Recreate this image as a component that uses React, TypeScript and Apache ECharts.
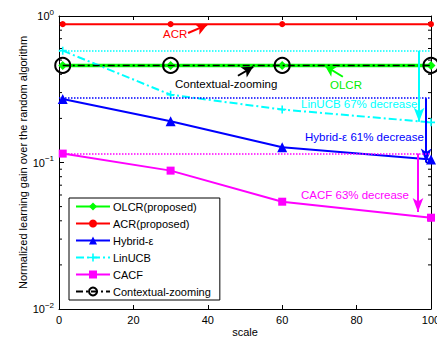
import React, { useEffect, useRef } from "react";
import * as echarts from "echarts";

const scales = [1, 30, 60, 100];
const olcr = [0.46, 0.46, 0.46, 0.46];
const acr = [0.88, 0.88, 0.88, 0.88];
const hybrid = [0.271, 0.191, 0.127, 0.105];
const linucb = [0.58, 0.29, 0.23, 0.188];
const cacf = [0.115, 0.088, 0.054, 0.042];
const zooming = [0.46, 0.46, 0.46, 0.46];

const minorTicks = [0.02, 0.03, 0.04, 0.05, 0.06, 0.07, 0.08, 0.09, 0.2, 0.3, 0.4, 0.5, 0.6, 0.7, 0.8, 0.9];

// reference levels (starting value of each baseline)
const linucbStart = 0.58;
const hybridStart = 0.275;
const cacfStart = 0.115;

// decrease arrows: [x, fromY, toY]
const linucbArrow = [96.8, 0.58, 0.19];
const hybridArrow = [98.7, 0.275, 0.1];
const cacfArrow = [96.5, 0.115, 0.046];

// label arrows: [x1, y1, x2, y2]
const acrArrow = [34.7, 0.766, 39.8, 0.869];
const zoomArrow = [48.1, 0.391, 52.2, 0.45];
const olcrArrow = [76.3, 0.385, 71.5, 0.457];

const pair = (xs: number[], ys: number[]) => xs.map((x, i) => [x, ys[i]]);

const arrowLine = (a: number[]) => [
  { coord: [a[0], a[1]], symbol: "none" },
  { coord: [a[2], a[3]], symbol: "arrow", symbolSize: [9, 11] },
];
const vArrow = (a: number[]) => [
  { coord: [a[0], a[1]], symbol: "none" },
  { coord: [a[0], a[2]], symbol: "arrow", symbolSize: [8, 14] },
];
const hLine = (v: number, color: string) => [
  { coord: [0, v], symbol: "none", lineStyle: { type: "dotted", width: 1.5, color } },
  { coord: [100, v], symbol: "none" },
];

const plusPath = "path://M4,0 L6,0 L6,4 L10,4 L10,6 L6,6 L6,10 L4,10 L4,6 L0,6 L0,4 L4,4 Z";

const FONT = "Liberation Sans, Arial, sans-serif";

export default function App() {
  const ref = useRef<HTMLDivElement>(null);
  useEffect(() => {
    if (!ref.current) return;
    const chart = echarts.init(ref.current, undefined, { renderer: "svg" });
    const supFmt = (v: number) => {
      const e = Math.round(Math.log10(v));
      return e === 0 ? "10{sup|0}" : "10{sup|\u2212" + Math.abs(e) + "}";
    };
    const axisBase = {
      axisLine: { show: true, onZero: false, lineStyle: { color: "#000", width: 1 } },
      splitLine: { show: false },
    };
    const option: any = {
      animation: false,
      backgroundColor: "#ffffff",
      textStyle: { fontFamily: FONT },
      grid: { left: 59, right: 6, top: 16, bottom: 31, show: false, containLabel: false, outerBoundsMode: "none" },
      xAxis: [
        {
          ...axisBase,
          type: "value",
          min: 0,
          max: 100,
          interval: 20,
          name: "scale",
          nameLocation: "middle",
          nameGap: 17,
          nameMoveOverlap: false,
          nameTextStyle: { color: "#000", fontSize: 11, fontFamily: FONT },
          axisTick: { show: true, inside: true, length: 4, lineStyle: { color: "#000" } },
          axisLabel: { color: "#000", fontSize: 11, fontFamily: FONT, margin: 5, hideOverlap: false },
        },
        {
          ...axisBase,
          type: "value",
          min: 0,
          max: 100,
          interval: 20,
          position: "top",
          axisTick: { show: true, inside: true, length: 4, lineStyle: { color: "#000" } },
          axisLabel: { show: false },
        },
      ],
      yAxis: [
        {
          ...axisBase,
          type: "log",
          min: 0.01,
          max: 1,
          logBase: 10,
          name: "Normalized learning gain over the random algorithm",
          nameLocation: "middle",
          nameGap: 31,
          nameMoveOverlap: false,
          nameTextStyle: { color: "#000", fontSize: 11, fontFamily: FONT },
          axisTick: { show: true, inside: true, length: 5, lineStyle: { color: "#000" } },
          axisLabel: {
            color: "#000",
            fontSize: 11,
            fontFamily: FONT,
            margin: 5,
            formatter: supFmt,
            rich: { sup: { fontSize: 8, verticalAlign: "top", padding: [0, 0, 8, 0], color: "#000" } },
          },
        },
        {
          ...axisBase,
          type: "log",
          min: 0.01,
          max: 1,
          logBase: 10,
          position: "right",
          axisTick: { show: true, inside: true, length: 5, lineStyle: { color: "#000" } },
          axisLabel: { show: false },
        },
      ],
      legend: {
        orient: "vertical",
        left: 69,
        top: 198,
        padding: [3, 9, 3, 6],
        itemGap: 6,
        itemWidth: 34,
        itemHeight: 10,
        backgroundColor: "#ffffff",
        borderColor: "#000",
        borderWidth: 1,
        textStyle: { color: "#000", fontSize: 11, fontFamily: FONT, padding: [0, 0, 0, -2] },
        data: ["OLCR(proposed)", "ACR(proposed)", "Hybrid-\u03b5", "LinUCB", "CACF", "Contextual-zooming"],
      },
      graphic: [
        { type: "text", left: 163, top: 28, style: { text: "ACR", fill: "#ff0000", fontSize: 11.5, fontFamily: FONT } },
        { type: "text", left: 175, top: 78, style: { text: "Contextual-zooming", fill: "#000", fontSize: 11.5, fontFamily: FONT } },
        { type: "text", left: 330, top: 79, style: { text: "OLCR", fill: "#00ee00", fontSize: 11.5, fontFamily: FONT } },
        { type: "text", left: 301, top: 98, style: { text: "LinUCB 67% decrease", fill: "#00ffff", fontSize: 11.5, fontFamily: FONT } },
        { type: "text", left: 305, top: 131, style: { text: "Hybrid-\u03b5 61% decrease", fill: "#0000ff", fontSize: 11.5, fontFamily: FONT } },
        { type: "text", left: 301, top: 189, style: { text: "CACF 63% decrease", fill: "#ff00ff", fontSize: 11.5, fontFamily: FONT } },
      ],
      series: [
        {
          type: "custom",
          name: "minor",
          silent: true,
          data: minorTicks.map((v) => [0, v]),
          renderItem: (params: any, api: any) => {
            const v = api.value(1);
            const p = api.coord([0, v]);
            const q = api.coord([100, v]);
            return {
              type: "group",
              children: [
                { type: "line", shape: { x1: p[0], y1: p[1], x2: p[0] + 3, y2: p[1] }, style: { stroke: "#000", lineWidth: 1 } },
                { type: "line", shape: { x1: q[0], y1: q[1], x2: q[0] - 3, y2: q[1] }, style: { stroke: "#000", lineWidth: 1 } },
              ],
            };
          },
          z: 1,
        },
        {
          name: "OLCR(proposed)",
          type: "line",
          data: pair(scales, olcr),
          symbol: "diamond",
          symbolSize: 9,
          lineStyle: { color: "#00ff00", width: 3.5 },
          itemStyle: { color: "#00ff00" },
          markLine: {
            silent: true,
            label: { show: false },
            lineStyle: { color: "#00ff00", width: 2, type: "solid" },
            data: [arrowLine(olcrArrow)],
          },
          z: 3,
        },
        {
          name: "ACR(proposed)",
          type: "line",
          data: pair(scales, acr),
          symbol: "circle",
          symbolSize: 6,
          lineStyle: { color: "#ff0000", width: 2 },
          itemStyle: { color: "#ff0000" },
          markLine: {
            silent: true,
            label: { show: false },
            lineStyle: { color: "#ff0000", width: 2, type: "solid" },
            data: [arrowLine(acrArrow)],
          },
          z: 3,
        },
        {
          name: "Hybrid-\u03b5",
          type: "line",
          data: pair(scales, hybrid),
          symbol: "triangle",
          symbolSize: 10,
          lineStyle: { color: "#0000ff", width: 2 },
          itemStyle: { color: "#0000ff" },
          markLine: {
            silent: true,
            label: { show: false },
            lineStyle: { color: "#0000ff", width: 2, type: "solid" },
            data: [vArrow(hybridArrow), hLine(hybridStart, "#0000ff")],
          },
          z: 3,
        },
        {
          name: "LinUCB",
          type: "line",
          data: pair(scales, linucb),
          symbol: plusPath,
          symbolSize: 8,
          lineStyle: { color: "#00ffff", width: 2, type: [8, 3, 2, 3] },
          itemStyle: { color: "#00ffff" },
          markLine: {
            silent: true,
            label: { show: false },
            lineStyle: { color: "#00ffff", width: 2, type: "solid" },
            data: [vArrow(linucbArrow), hLine(linucbStart, "#00ffff")],
          },
          z: 3,
        },
        {
          name: "CACF",
          type: "line",
          data: pair(scales, cacf),
          symbol: "rect",
          symbolSize: 8,
          lineStyle: { color: "#ff00ff", width: 2 },
          itemStyle: { color: "#ff00ff" },
          markLine: {
            silent: true,
            label: { show: false },
            lineStyle: { color: "#ff00ff", width: 2, type: "solid" },
            data: [vArrow(cacfArrow), hLine(cacfStart, "#ff00ff")],
          },
          z: 3,
        },
        {
          name: "Contextual-zooming",
          type: "line",
          data: pair(scales, zooming),
          symbol: "circle",
          symbolSize: 15,
          lineStyle: { color: "#000000", width: 1.5, type: [7, 3, 2, 3] },
          itemStyle: { color: "rgba(0,0,0,0)", borderColor: "#000", borderWidth: 2 },
          markLine: {
            silent: true,
            label: { show: false },
            lineStyle: { color: "#000", width: 2, type: "solid" },
            data: [arrowLine(zoomArrow)],
          },
          z: 4,
        },
      ],
    };
    chart.setOption(option);
    return () => chart.dispose();
  }, []);
  return <div ref={ref} style={{ position: "fixed", left: 0, top: 0, width: 437, height: 340 }} />;
}
